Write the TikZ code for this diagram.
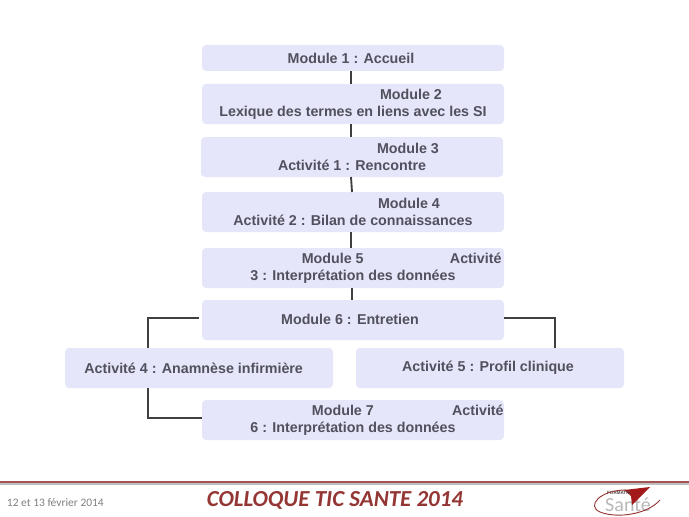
\documentclass[tikz,border=0pt]{standalone}
\usepackage{fontspec}
\setmainfont{Liberation Sans}
\newfontfamily\footfont{Carlito}
\usetikzlibrary{positioning}
\definecolor{boxfill}{HTML}{E6E6FA}
\definecolor{boxtext}{HTML}{50505E}
\definecolor{footred}{HTML}{943634}
\begin{document}
\begin{tikzpicture}[
  x=0.75pt, y=-0.75pt,
  box/.style={fill=boxfill, rounded corners=3pt, align=center, inner sep=0pt, outer sep=0pt,
    minimum width=226.5pt, minimum height=30pt, text=boxtext,
    font=\fontsize{10.7}{13}\selectfont\bfseries},
  conn/.style={draw=black!75, line width=1.4pt},
  foot/.style={inner sep=0pt, outer sep=0pt, font=\footfont}]
\useasboundingbox (0,0) rectangle (689,517);
% --- Main column ---
\node[box, minimum height=19.5pt] (m1) at (353,58) {\hspace*{-3pt}Module 1 : Accueil};
\node[box, below=9.75pt of m1] (m2) {\hspace*{87pt}Module 2\\Lexique des termes en liens avec les SI};
\node[box, below=9.75pt of m2, xshift=-0.75pt] (m3) {\hspace*{84pt}Module 3\\Activité 1 : Rencontre};
\node[box, below=11.25pt of m3, xshift=0.75pt] (m4) {\hspace*{84pt}Module 4\\Activité 2 : Bilan de connaissances};
\node[box, below=12pt of m4] (m5) {\hspace*{73pt}Module 5\hspace{64.75pt}Activité\\3 : Interprétation des données};
\node[box, below=9pt of m5] (m6) {\raisebox{1.5pt}{\hspace*{-4.5pt}Module 6 : Entretien}};
% --- Branches ---
\node[box, minimum width=201pt] (a4) at (199,368) {\hspace*{-8pt}Activité 4 : Anamnèse infirmière};
\node[box, minimum width=201pt] (a5) at (490,368) {\hspace*{-3pt}Activité 5 : Profil clinique};
\node[box] (m7) at (353,420) {\hspace*{82.25pt}Module 7\hspace{58.75pt}Activité\\6 : Interprétation des données};
% --- Connectors ---
\draw[conn] ([xshift=-1.5pt]m1.south) -- ([xshift=-1.5pt]m2.north);
\draw[conn] ([xshift=-1.5pt]m2.south) -- ([xshift=-0.75pt]m3.north);
\draw[conn] ([xshift=-0.75pt]m3.south) -- ([xshift=-0.75pt]m4.north);
\draw[conn] ([xshift=-1.5pt]m4.south) -- ([xshift=-1.5pt]m5.north);
\draw[conn] ([xshift=-1pt]m5.south) -- ([xshift=-1pt]m6.north);
\draw[conn] ([xshift=-2pt,yshift=1.5pt]m6.west) -| ([xshift=-38.25pt]a4.north);
\draw[conn] ([yshift=1.5pt]m6.east) -| ([xshift=48.75pt]a5.north);
\draw[conn] ([xshift=-38.25pt]a4.south) |- ([yshift=1.5pt]m7.west);
% --- Footer ---
\coordinate (ruleL) at (0,482);
\coordinate (ruleR) at (689,482);
\draw[black!25, line width=1.5pt] ([yshift=-1.2pt]ruleL) -- ([yshift=-1.2pt]ruleR);
\draw[footred!85, line width=1.5pt] (ruleL) -- (ruleR);
\node[foot, anchor=west, text=black!50, font=\footfont\fontsize{8.6}{10}\selectfont] (date) at (7,503) {12 et 13 février 2014};
\node[foot, text=footred, font=\footfont\fontsize{17.2}{20}\selectfont\bfseries\itshape] (title) at (335,500) {COLLOQUE TIC SANTE 2014};
% --- Logo ---
\node[foot, text=black!28, font=\footfont\fontsize{15}{16}\selectfont] (sante) at (628,505) {Santé};
\fill[red!60!black!90] (624,490) -- (650,487) -- (632,505) -- (631,496) -- cycle;
\node[foot, text=black!70, font=\fontsize{3.4}{4}\selectfont\bfseries] (formatic) at (619,493) {FORMATIC};
\draw[footred, line width=0.7pt] (626,490) .. controls (600,490) and (586,506) .. (600,512) .. controls (618,519) and (648,514) .. (660,500);
\end{tikzpicture}
\end{document}
